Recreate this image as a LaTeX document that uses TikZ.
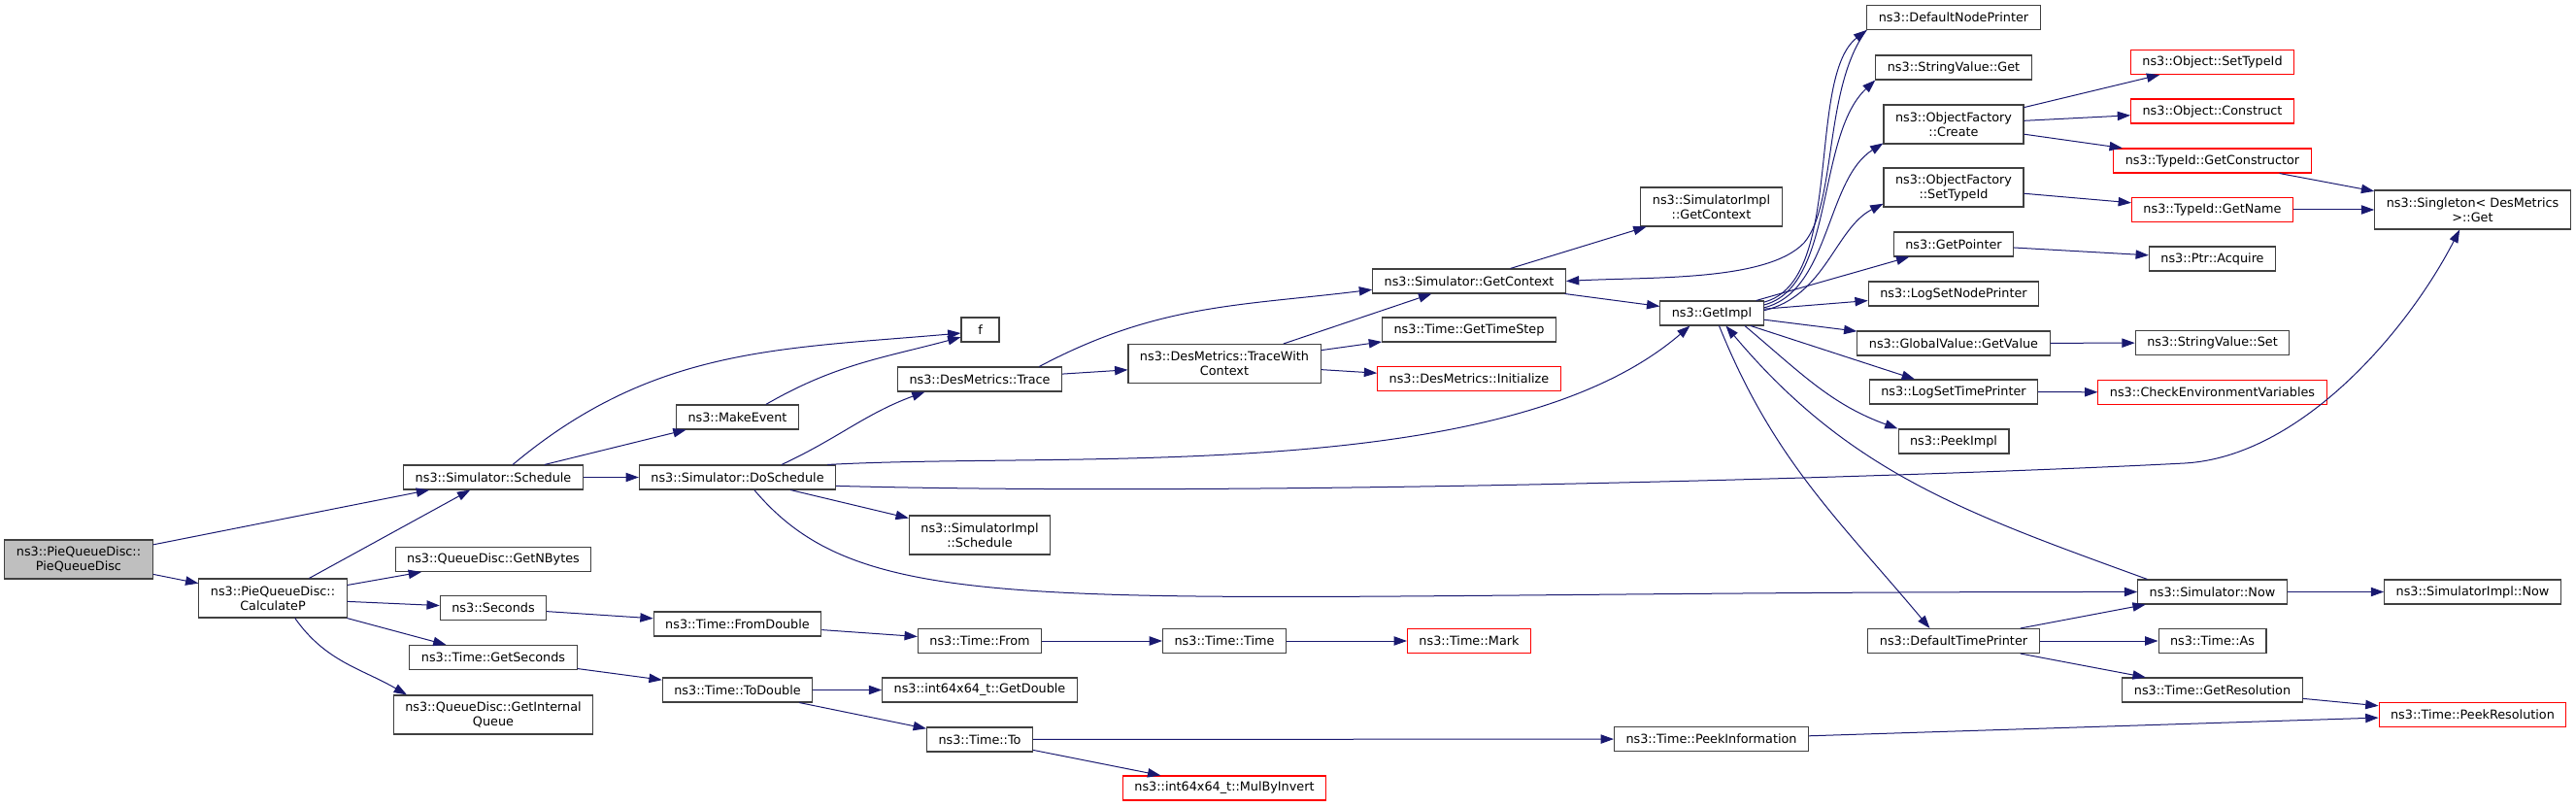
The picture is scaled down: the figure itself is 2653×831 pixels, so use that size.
\documentclass[tikz,border=0pt]{standalone}
\usepackage{fontspec}
\setmainfont{DejaVu Sans}
\usetikzlibrary{arrows.meta}
\definecolor{edgeblue}{HTML}{191970}
\definecolor{boxgray}{HTML}{404040}

\begin{document}
\begin{tikzpicture}[x=0.75pt,y=-0.75pt,
fnbox/.style={draw=boxgray,line width=0.8pt,fill=white,font=\fontsize{9.6}{11.25}\selectfont,inner xsep=9pt,inner ysep=1pt,minimum height=18.75pt,align=center},
twoline/.style={fnbox,minimum height=30pt},
redbox/.style={fnbox,draw=red},
rootbox/.style={twoline,fill=black!25},
callarr/.style={draw=edgeblue,line width=0.75pt,-{Triangle[length=10pt,width=7pt]}}]
\useasboundingbox (0,0) rectangle (2653,831);

\node[rootbox] (pqd) at (81,576) {ns3::PieQueueDisc::\\PieQueueDisc};
\node[fnbox] (sched) at (508,491.5) {ns3::Simulator::Schedule};
\node[twoline] (calcp) at (281,616) {ns3::PieQueueDisc::\\CalculateP};
\node[fnbox] (nbytes) at (508,576) {ns3::QueueDisc::GetNBytes};
\node[fnbox] (secs) at (508,626) {ns3::Seconds};
\node[fnbox] (getsecs) at (508,677) {ns3::Time::GetSeconds};
\node[twoline] (intq) at (508,736) {ns3::QueueDisc::GetInternal\\Queue};
\node[fnbox] (mkev) at (759.5,429.5) {ns3::MakeEvent};
\node[fnbox] (dosched) at (759.5,491.5) {ns3::Simulator::DoSchedule};
\node[fnbox] (fromdbl) at (759.5,642.5) {ns3::Time::FromDouble};
\node[fnbox] (todbl) at (759.5,710.5) {ns3::Time::ToDouble};
\node[fnbox,minimum width=29.25pt] (f) at (1009.5,339.5) {f};
\node[fnbox] (trace) at (1009,390.5) {ns3::DesMetrics::Trace};
\node[twoline] (simsched) at (1009,551) {ns3::SimulatorImpl\\::Schedule};
\node[fnbox] (timefrom) at (1009,660) {ns3::Time::From};
\node[fnbox] (getdbl) at (1009,710.5) {ns3::int64x64\_t::GetDouble};
\node[fnbox] (timeto) at (1009,761.5) {ns3::Time::To};
\node[twoline] (twc) at (1261,374.5) {ns3::DesMetrics::TraceWith\\Context};
\node[fnbox] (ttime) at (1261,660) {ns3::Time::Time};
\node[redbox] (mul) at (1261,811.5) {ns3::int64x64\_t::MulByInvert};
\node[fnbox] (getctx) at (1513,289.5) {ns3::Simulator::GetContext};
\node[fnbox] (tstep) at (1513,339.5) {ns3::Time::GetTimeStep};
\node[redbox] (init) at (1513,390) {ns3::DesMetrics::Initialize};
\node[redbox] (mark) at (1513,660) {ns3::Time::Mark};
\node[twoline] (implctx) at (1762.5,213) {ns3::SimulatorImpl\\::GetContext};
\node[fnbox] (getimpl) at (1763,322.5) {ns3::GetImpl};
\node[fnbox] (peekinfo) at (1762.5,761) {ns3::Time::PeekInformation};
\node[fnbox] (dnp) at (2012,18) {ns3::DefaultNodePrinter};
\node[fnbox] (svget) at (2012,69.5) {ns3::StringValue::Get};
\node[twoline] (ofcreate) at (2012,128) {ns3::ObjectFactory\\::Create};
\node[twoline] (ofstid) at (2012,193) {ns3::ObjectFactory\\::SetTypeId};
\node[fnbox] (getptr) at (2012,251.5) {ns3::GetPointer};
\node[fnbox] (lsnp) at (2012,302.5) {ns3::LogSetNodePrinter};
\node[fnbox] (gvget) at (2012,353.5) {ns3::GlobalValue::GetValue};
\node[fnbox] (lstp) at (2012,403.5) {ns3::LogSetTimePrinter};
\node[fnbox] (peekimpl) at (2012,454.5) {ns3::PeekImpl};
\node[fnbox] (dtp) at (2012,660) {ns3::DefaultTimePrinter};
\node[redbox] (objstid) at (2278.5,64) {ns3::Object::SetTypeId};
\node[redbox] (objcons) at (2278.5,114.5) {ns3::Object::Construct};
\node[redbox] (getctor) at (2278.5,165.5) {ns3::TypeId::GetConstructor};
\node[redbox] (getname) at (2278.5,216) {ns3::TypeId::GetName};
\node[fnbox] (acquire) at (2278.5,266.5) {ns3::Ptr::Acquire};
\node[fnbox] (svset) at (2278.5,353) {ns3::StringValue::Set};
\node[redbox] (checkenv) at (2278.5,404) {ns3::CheckEnvironmentVariables};
\node[fnbox] (now) at (2278.5,609.5) {ns3::Simulator::Now};
\node[fnbox] (tas) at (2278.5,660) {ns3::Time::As};
\node[fnbox] (getres) at (2278.5,710.5) {ns3::Time::GetResolution};
\node[twoline] (singleton) at (2546.5,216) {ns3::Singleton< DesMetrics\\ >::Get};
\node[fnbox] (implnow) at (2546.5,609.5) {ns3::SimulatorImpl::Now};
\node[redbox] (peekres) at (2546.5,736) {ns3::Time::PeekResolution};

\draw[callarr] (pqd) -- (sched);
\draw[callarr] (pqd) -- (calcp);
\draw[callarr] (calcp) -- (sched);
\draw[callarr] (calcp) -- (nbytes);
\draw[callarr] (calcp) -- (secs);
\draw[callarr] (calcp) -- (getsecs);
\draw[callarr] (calcp.-42) to[out=-55,in=150] (intq.167);
\draw[callarr] (sched.33) to[out=40,in=185] (f.190);
\draw[callarr] (sched) -- (mkev);
\draw[callarr] (sched) -- (dosched);
\draw[callarr] (mkev.24) to[out=30,in=195] (f.201);
\draw[callarr] (secs) -- (fromdbl);
\draw[callarr] (getsecs) -- (todbl);
\draw[callarr] (dosched.16) to[out=25,in=200] (trace.193);
\draw[callarr] (dosched.8) .. controls (1100,465) and (1550,500) .. (getimpl.210);
\draw[callarr] (dosched.-5) .. controls (1300,512) and (2000,490) .. (2250,477) .. controls (2370,470) and (2480,340) .. (singleton.237);
\draw[callarr] (dosched) -- (simsched);
\draw[callarr] (dosched.-37) .. controls (900,650) and (1100,609) .. (now.west);
\draw[callarr] (trace.12) to[out=28,in=187] (getctx.185);
\draw[callarr] (trace) -- (twc);
\draw[callarr] (twc) -- (getctx);
\draw[callarr] (twc) -- (tstep);
\draw[callarr] (twc) -- (init);
\draw[callarr] (getctx) -- (implctx);
\draw[callarr] (getctx) -- (getimpl);
\draw[callarr] (dnp.south west) .. controls (1878,90) and (1892,210) .. (1858,250) .. controls (1820,290) and (1700,285) .. (getctx.east);
\draw[callarr] (getimpl.12) .. controls (1900,290) and (1860,80) .. (dnp.south west);
\draw[callarr] (getimpl.9) .. controls (1890,295) and (1870,140) .. (svget.south west);
\draw[callarr] (getimpl.6) .. controls (1885,300) and (1880,185) .. (ofcreate.195);
\draw[callarr] (getimpl.3) .. controls (1880,305) and (1890,235) .. (ofstid.193);
\draw[callarr] (getimpl) -- (getptr);
\draw[callarr] (getimpl) -- (lsnp);
\draw[callarr] (getimpl) -- (gvget);
\draw[callarr] (getimpl) -- (lstp);
\draw[callarr] (getimpl.-21) to[out=-40,in=160] (peekimpl.north west);
\draw[callarr] (getimpl.-60) to[out=-68,in=130] (dtp.152);
\draw[callarr] (now.169) to[out=160,in=-50] (getimpl.-42);
\draw[callarr] (ofcreate) -- (objstid);
\draw[callarr] (ofcreate) -- (objcons);
\draw[callarr] (ofcreate) -- (getctor);
\draw[callarr] (ofstid) -- (getname);
\draw[callarr] (getctor) -- (singleton);
\draw[callarr] (getname) -- (singleton);
\draw[callarr] (getptr) -- (acquire);
\draw[callarr] (gvget) -- (svset);
\draw[callarr] (lstp) -- (checkenv);
\draw[callarr] (dtp) -- (now);
\draw[callarr] (dtp) -- (tas);
\draw[callarr] (dtp) -- (getres);
\draw[callarr] (now) -- (implnow);
\draw[callarr] (getres) -- (peekres);
\draw[callarr] (peekinfo) -- (peekres);
\draw[callarr] (fromdbl) -- (timefrom);
\draw[callarr] (timefrom) -- (ttime);
\draw[callarr] (ttime) -- (mark);
\draw[callarr] (todbl) -- (getdbl);
\draw[callarr] (todbl) -- (timeto);
\draw[callarr] (timeto) -- (peekinfo);
\draw[callarr] (timeto) -- (mul);
\end{tikzpicture}
\end{document}
